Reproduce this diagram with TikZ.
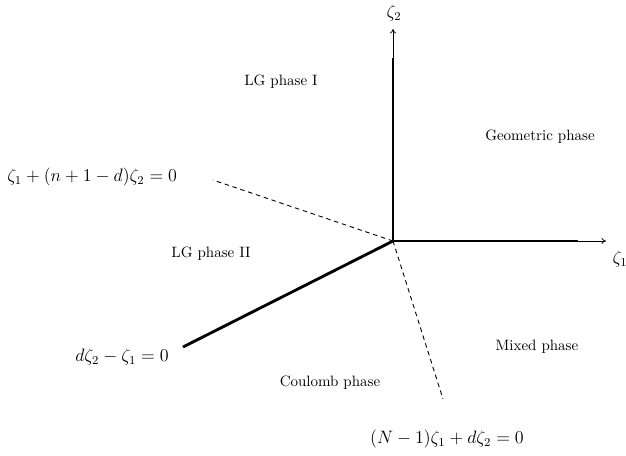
\documentclass[tikz,border=0pt]{standalone}
\usetikzlibrary{arrows.meta}
\begin{document}
\begin{tikzpicture}[x=0.6667pt,y=-0.6667pt,
  thin axis/.style={line width=0.5pt,-{To[length=3pt,width=4pt]}},
  thickline/.style={line width=1.9pt},
  dashline/.style={line width=0.6pt,dash pattern=on 3pt off 2.5pt},
  lbl/.style={inner sep=0pt,font=\normalsize},
  eq/.style={inner sep=0pt,font=\fontsize{11.6pt}{14pt}\selectfont}]
\useasboundingbox (0,0) rectangle (626,455);
\coordinate (O) at (393,241);
\coordinate (xend) at (606,241);
\coordinate (yend) at (393,29);
\coordinate (xthick) at (578,241);
\coordinate (ythick) at (393,58);
\coordinate (dl) at (183,347);
\coordinate (ul) at (213,180);
\coordinate (dr) at (443,399);
\draw[thin axis] (O) -- (xend);
\draw[thin axis] (O) -- (yend);
\draw[thickline] (O) -- (xthick);
\draw[thickline] (O) -- (ythick);
\draw[thickline] (O) -- (dl);
\draw[dashline] (O) -- (ul);
\draw[dashline] (O) -- (dr);
\node[eq] (z2) at (394,13) {$\zeta_2$};
\node[eq] (z1) at (620,259) {$\zeta_1$};
\node[lbl] (lg1) at (281,82) {LG phase I};
\node[lbl] (geo) at (540,137) {Geometric phase};
\node[lbl] (lg2) at (211,254) {LG phase II};
\node[lbl] (mix) at (537,347) {Mixed phase};
\node[lbl] (cou) at (330,383) {Coulomb phase};
\node[eq,anchor=west] (e1) at (7,177) {$\zeta_1+(n+1-d)\zeta_2=0$};
\node[eq] (e2) at (122,357) {$d\zeta_2-\zeta_1=0$};
\node[eq] (e3) at (447,439) {$(N-1)\zeta_1+d\zeta_2=0$};
\end{tikzpicture}
\end{document}
